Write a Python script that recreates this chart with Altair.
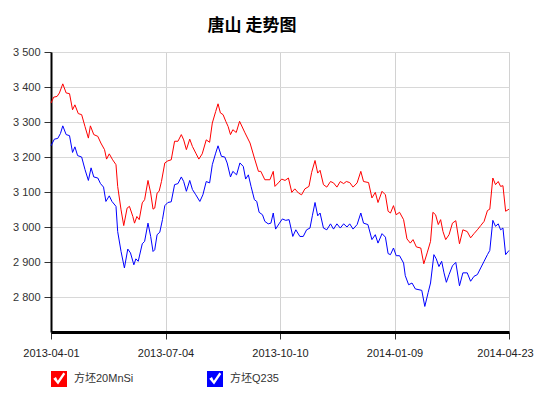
import altair as alt
import pandas as pd

series_names = ["方坯20MnSi", "方坯Q235"]
series_colors = ["#ff0000", "#0000ff"]

tick_positions = [0, 34, 68, 102, 136]
tick_labels = ["2013-04-01", "2013-07-04", "2013-10-10", "2014-01-09", "2014-04-23"]
y_ticks = [2800, 2900, 3000, 3100, 3200, 3300, 3400, 3500]

red_idx = [0, 0.8, 1.8, 2.5, 3.5, 4.5, 5.5, 6.4, 7.1, 8.1, 9.1, 10.1, 11.1, 11.7, 12.7, 13.9, 14.8, 15.9,
           16.5, 17.3, 18.3, 19.3, 19.8, 20.8, 21.6, 22.6, 23.3, 24.3, 24.8, 25.5, 26.2, 27.1, 27.8, 28.8,
           29.6, 30.3, 30.8, 31.5, 32.1, 32.8, 33.8, 34.7, 35.7, 36.7, 37.7, 38.7, 39.4, 40.2, 41.2, 42.0,
           43.0, 43.9, 44.9, 46.1, 47.1, 47.9, 48.9, 49.6, 50.3, 51.1, 51.9, 52.6, 53.3, 54.0, 55.0, 56.0,
           57.6, 59.1, 60.4, 61.6, 62.3, 63.5, 65.0, 66.0, 66.5, 67.5, 68.5, 69.5, 70.5, 71.5, 72.4, 73.5,
           74.4, 75.4, 76.6, 77.4, 78.4, 79.2, 79.9, 80.9, 81.9, 83.0, 83.9, 84.9, 85.9, 86.9, 87.7, 88.7,
           89.7, 90.9, 92.0, 92.8, 94.3, 95.3, 96.3, 97.1, 98.3, 99.3, 100.1, 100.8, 101.7, 102.5, 103.5,
           104.7, 105.7, 106.7, 107.5, 108.5, 109.8, 110.7, 111.7, 112.7, 113.4, 114.2, 115.0, 115.7, 116.4,
           117.2, 118.2, 119.2, 120.2, 121.3, 122.3, 123.6, 124.6, 125.6, 126.6, 127.6, 128.6, 129.6, 130.3,
           131.2, 132.0, 132.8, 133.5, 134.2, 135.0, 136.0]
red_val = [3354, 3371, 3373, 3383, 3409, 3383, 3381, 3335, 3349, 3324, 3321, 3287, 3254, 3289, 3264, 3259,
           3240, 3221, 3194, 3209, 3192, 3178, 3116, 3049, 3004, 3054, 3059, 3030, 3011, 3030, 3021, 3069,
           3078, 3133, 3097, 3051, 3054, 3097, 3102, 3130, 3183, 3189, 3192, 3245, 3245, 3264, 3249, 3221,
           3251, 3230, 3211, 3194, 3209, 3249, 3242, 3297, 3330, 3352, 3326, 3321, 3302, 3287, 3264, 3278,
           3270, 3302, 3269, 3240, 3197, 3159, 3159, 3135, 3135, 3159, 3116, 3126, 3137, 3133, 3140, 3099,
           3109, 3097, 3092, 3109, 3116, 3156, 3190, 3154, 3162, 3121, 3114, 3130, 3126, 3114, 3130, 3124,
           3130, 3127, 3114, 3126, 3159, 3130, 3127, 3083, 3099, 3070, 3102, 3092, 3045, 3040, 3061, 3035,
           3042, 3021, 2966, 2954, 2964, 2943, 2940, 2895, 2926, 2959, 3042, 3035, 3007, 3021, 2987, 2964,
           2978, 3011, 3018, 2952, 2992, 2987, 2969, 2981, 2992, 3004, 3016, 3047, 3051, 3140, 3121, 3130,
           3116, 3118, 3045, 3051]

blue_idx = [0, 1.0, 2.0, 2.8, 3.5, 4.5, 5.5, 6.4, 7.1, 7.9, 9.1, 10.1, 11.1, 11.9, 12.7, 13.9, 14.7, 15.6,
            16.3, 17.3, 18.1, 19.3, 19.8, 20.8, 21.8, 22.8, 23.6, 24.6, 25.2, 25.9, 27.1, 27.8, 28.8, 29.6,
            30.3, 30.8, 31.5, 32.3, 33.1, 33.8, 34.7, 35.7, 36.7, 37.7, 38.7, 39.4, 40.2, 41.2, 42.0, 43.0,
            44.2, 45.1, 46.1, 47.1, 47.9, 48.9, 49.6, 50.6, 51.6, 52.3, 53.3, 54.0, 55.1, 56.1, 57.1, 57.8,
            58.6, 59.4, 60.4, 61.1, 61.8, 62.8, 63.5, 64.5, 65.3, 66.0, 66.7, 67.7, 68.7, 69.7, 70.7, 71.8,
            72.7, 73.9, 74.9, 75.9, 76.9, 77.6, 78.4, 79.2, 79.9, 80.9, 81.9, 83.0, 83.9, 84.9, 85.9, 86.9,
            87.9, 88.7, 89.7, 90.9, 92.0, 92.8, 94.1, 95.3, 96.3, 97.1, 98.3, 99.3, 100.1, 100.8, 101.7,
            102.5, 103.5, 104.7, 105.2, 106.2, 107.2, 108.2, 110.1, 111.0, 112.0, 112.7, 113.7, 114.4, 115.2,
            116.0, 116.7, 117.4, 118.2, 119.2, 120.2, 121.3, 122.3, 123.6, 124.6, 125.6, 126.6, 127.6, 128.6,
            129.6, 130.3, 131.2, 132.0, 132.8, 133.5, 134.2, 135.0, 136.0]
blue_val = [3232, 3251, 3253, 3267, 3289, 3264, 3261, 3213, 3229, 3204, 3200, 3164, 3133, 3169, 3143, 3140,
            3124, 3114, 3073, 3089, 3073, 3059, 2987, 2930, 2883, 2937, 2926, 2892, 2909, 2902, 2952, 2959,
            3011, 2973, 2930, 2935, 2978, 2985, 3021, 3061, 3070, 3072, 3121, 3124, 3143, 3130, 3102, 3133,
            3107, 3092, 3073, 3092, 3130, 3126, 3178, 3211, 3232, 3202, 3200, 3183, 3143, 3159, 3149, 3183,
            3173, 3137, 3149, 3116, 3078, 3073, 3042, 3035, 3016, 3009, 3011, 3040, 2994, 3009, 3023, 3019,
            3021, 2973, 2992, 2973, 2973, 2992, 2997, 3032, 3070, 3032, 3040, 2997, 2992, 3009, 2994, 3009,
            2997, 3009, 3000, 3009, 2994, 3007, 3040, 3011, 3007, 2964, 2978, 2954, 2981, 2971, 2924, 2921,
            2940, 2918, 2918, 2897, 2861, 2835, 2840, 2823, 2819, 2773, 2813, 2840, 2921, 2909, 2887, 2902,
            2869, 2842, 2864, 2889, 2899, 2832, 2869, 2869, 2845, 2859, 2864, 2883, 2902, 2921, 2933, 3019,
            3002, 3009, 2992, 2997, 2921, 2933]

rows = []
for i, v in zip(red_idx, red_val):
    rows.append({"series": series_names[0], "idx": i, "value": v})
for i, v in zip(blue_idx, blue_val):
    rows.append({"series": series_names[1], "idx": i, "value": v})
df = pd.DataFrame(rows)

x_label_expr = ""
for p, lab in zip(tick_positions, tick_labels):
    x_label_expr += f"datum.value == {p} ? '{lab}' : "
x_label_expr += "''"

latin = "Liberation Sans"
mixed = "Liberation Sans, Noto Sans CJK SC"

CHECK_BOX = ("M-1,-1 L1,-1 L1,1 L-1,1 Z "
             "M-0.72,-0.02 L-0.12,0.68 L0.78,-0.62 L0.55,-0.82 L-0.15,0.22 L-0.38,-0.25 Z")

x_axis = alt.Axis(values=tick_positions, labelExpr=x_label_expr, title=None,
                  grid=True, gridColor="#d2d2d2", gridWidth=1,
                  domainColor="#000000", domainWidth=3,
                  tickColor="#333333", tickSize=7, tickWidth=1,
                  labelFont=latin, labelFontSize=11, labelColor="#222222",
                  labelPadding=8, labelOverlap=False, labelBound=False, labelFlush=False,
                  labelOffset={"condition": {"test": f"datum.value == {tick_positions[-1]}", "value": -4},
                               "value": 0})
y_axis = alt.Axis(values=y_ticks, labelExpr="replace(format(datum.value, ','), ',', ' ')",
                  title=None, grid=True, gridColor="#d8d8d8", gridWidth=1,
                  domainColor="#000000", domainWidth=2,
                  tickColor="#333333", tickSize=7, tickWidth=1,
                  labelFont=latin, labelFontSize=11, labelColor="#333333",
                  labelPadding=4, labelOverlap=False)

x_scale = alt.Scale(domain=[0, 136], nice=False, zero=False)
y_scale = alt.Scale(domain=[2700, 3500], nice=False, zero=False)

lines = alt.Chart(df).mark_line(strokeWidth=1, interpolate="linear").encode(
    x=alt.X("idx:Q", scale=x_scale, axis=x_axis),
    y=alt.Y("value:Q", scale=y_scale, axis=y_axis),
    color=alt.Color("series:N", scale=alt.Scale(domain=series_names, range=series_colors), legend=None),
    detail="series:N",
)

legend_layer = alt.Chart(df).transform_filter("false").mark_point(
    shape=CHECK_BOX, filled=True, size=256
).encode(
    x=alt.X("idx:Q", scale=x_scale, axis=x_axis),
    y=alt.Y("value:Q", scale=y_scale, axis=y_axis),
    fill=alt.Fill("series:N", scale=alt.Scale(domain=series_names, range=series_colors),
                  legend=alt.Legend(title=None, orient="none", legendX=0, legendY=319,
                                    direction="horizontal", symbolType=CHECK_BOX,
                                    symbolSize=256, symbolOpacity=1, symbolStrokeWidth=0,
                                    labelFont=mixed, labelFontSize=11, labelColor="#333333",
                                    labelOffset=7, columnPadding=73)),
)

chart = alt.layer(lines, legend_layer).resolve_scale(fill="independent").properties(
    width=458,
    height=280,
    title=alt.TitleParams("唐山 走势图", font="Noto Sans CJK SC", fontSize=17, fontWeight="bold",
                          color="#000000", anchor="middle", dx=-28, offset=11),
    autosize=alt.AutoSizeParams(type="none"),
    padding={"left": 43, "top": 44, "right": 25, "bottom": 58},
).configure_view(stroke=None).configure(background="#ffffff")

chart.save("out.html", embed_options={"renderer": "svg", "actions": False})
